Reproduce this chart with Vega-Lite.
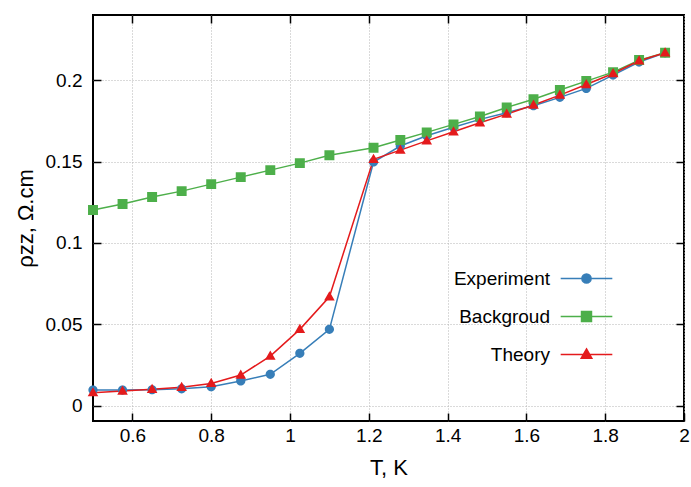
{
  "$schema": "https://vega.github.io/schema/vega-lite/v6.json",
  "width": 591,
  "height": 406,
  "autosize": "none",
  "padding": {"left": 93, "top": 15, "right": 7, "bottom": 66},
  "background": "white",
  "config": {
    "view": {"stroke": "black", "strokeWidth": 2},
    "font": "Liberation Sans",
    "axis": {
      "labelFont": "Liberation Sans",
      "titleFont": "Liberation Sans",
      "labelColor": "#000000",
      "titleColor": "#000000",
      "labelFontSize": 19,
      "titleFontSize": 22,
      "titleFontWeight": "normal",
      "domain": false,
      "tickColor": "#000000",
      "tickWidth": 1.5,
      "gridColor": "#b4b4b4",
      "gridDash": [1, 2],
      "gridWidth": 1,
      "gridOpacity": 1
    }
  },
  "data": {
    "values": [
      {"T": 0.5, "rho": 0.0096, "series": "Experiment"},
      {"T": 0.575, "rho": 0.0096, "series": "Experiment"},
      {"T": 0.65, "rho": 0.0098, "series": "Experiment"},
      {"T": 0.725, "rho": 0.0104, "series": "Experiment"},
      {"T": 0.8, "rho": 0.0117, "series": "Experiment"},
      {"T": 0.875, "rho": 0.0152, "series": "Experiment"},
      {"T": 0.95, "rho": 0.0193, "series": "Experiment"},
      {"T": 1.025, "rho": 0.0322, "series": "Experiment"},
      {"T": 1.1, "rho": 0.0469, "series": "Experiment"},
      {"T": 1.212, "rho": 0.1497, "series": "Experiment"},
      {"T": 1.28, "rho": 0.1595, "series": "Experiment"},
      {"T": 1.347, "rho": 0.1658, "series": "Experiment"},
      {"T": 1.415, "rho": 0.171, "series": "Experiment"},
      {"T": 1.482, "rho": 0.1759, "series": "Experiment"},
      {"T": 1.55, "rho": 0.18, "series": "Experiment"},
      {"T": 1.618, "rho": 0.1843, "series": "Experiment"},
      {"T": 1.685, "rho": 0.1894, "series": "Experiment"},
      {"T": 1.752, "rho": 0.1949, "series": "Experiment"},
      {"T": 1.82, "rho": 0.2031, "series": "Experiment"},
      {"T": 1.886, "rho": 0.2111, "series": "Experiment"},
      {"T": 1.952, "rho": 0.2168, "series": "Experiment"},
      {"T": 0.5, "rho": 0.1202, "series": "Backgroud"},
      {"T": 0.575, "rho": 0.1239, "series": "Backgroud"},
      {"T": 0.65, "rho": 0.1282, "series": "Backgroud"},
      {"T": 0.725, "rho": 0.1318, "series": "Backgroud"},
      {"T": 0.8, "rho": 0.1361, "series": "Backgroud"},
      {"T": 0.875, "rho": 0.1404, "series": "Backgroud"},
      {"T": 0.95, "rho": 0.1447, "series": "Backgroud"},
      {"T": 1.025, "rho": 0.149, "series": "Backgroud"},
      {"T": 1.1, "rho": 0.1539, "series": "Backgroud"},
      {"T": 1.212, "rho": 0.1584, "series": "Backgroud"},
      {"T": 1.28, "rho": 0.1632, "series": "Backgroud"},
      {"T": 1.347, "rho": 0.1679, "series": "Backgroud"},
      {"T": 1.415, "rho": 0.1728, "series": "Backgroud"},
      {"T": 1.482, "rho": 0.1777, "series": "Backgroud"},
      {"T": 1.55, "rho": 0.1832, "series": "Backgroud"},
      {"T": 1.618, "rho": 0.1883, "series": "Backgroud"},
      {"T": 1.685, "rho": 0.1939, "series": "Backgroud"},
      {"T": 1.752, "rho": 0.1994, "series": "Backgroud"},
      {"T": 1.82, "rho": 0.2049, "series": "Backgroud"},
      {"T": 1.886, "rho": 0.2123, "series": "Backgroud"},
      {"T": 1.952, "rho": 0.2168, "series": "Backgroud"},
      {"T": 0.5, "rho": 0.008, "series": "Theory"},
      {"T": 0.575, "rho": 0.009, "series": "Theory"},
      {"T": 0.65, "rho": 0.0101, "series": "Theory"},
      {"T": 0.725, "rho": 0.0113, "series": "Theory"},
      {"T": 0.8, "rho": 0.0137, "series": "Theory"},
      {"T": 0.875, "rho": 0.0188, "series": "Theory"},
      {"T": 0.95, "rho": 0.0305, "series": "Theory"},
      {"T": 1.025, "rho": 0.0469, "series": "Theory"},
      {"T": 1.1, "rho": 0.0669, "series": "Theory"},
      {"T": 1.212, "rho": 0.1513, "series": "Theory"},
      {"T": 1.28, "rho": 0.157, "series": "Theory"},
      {"T": 1.347, "rho": 0.1627, "series": "Theory"},
      {"T": 1.415, "rho": 0.1683, "series": "Theory"},
      {"T": 1.482, "rho": 0.1738, "series": "Theory"},
      {"T": 1.55, "rho": 0.1791, "series": "Theory"},
      {"T": 1.618, "rho": 0.1847, "series": "Theory"},
      {"T": 1.685, "rho": 0.1908, "series": "Theory"},
      {"T": 1.752, "rho": 0.1973, "series": "Theory"},
      {"T": 1.82, "rho": 0.2041, "series": "Theory"},
      {"T": 1.886, "rho": 0.2119, "series": "Theory"},
      {"T": 1.952, "rho": 0.2168, "series": "Theory"}
    ]
  },
  "layer": [
    {
      "mark": {"type": "line", "strokeWidth": 1.5},
      "encoding": {
        "x": {
          "field": "T", "type": "quantitative",
          "scale": {"domain": [0.5, 2], "nice": false, "zero": false},
          "axis": {
            "orient": "bottom",
            "values": [0.6, 0.8, 1, 1.2, 1.4, 1.6, 1.8, 2],
            "format": "~g",
            "tickSize": -8,
            "labelPadding": 13,
            "labelFlush": false,
            "labelOverlap": false,
            "grid": true,
            "title": "T, K",
            "titlePadding": 12
          }
        },
        "y": {
          "field": "rho", "type": "quantitative",
          "scale": {"domain": [-0.0094, 0.24], "nice": false, "zero": false},
          "axis": {
            "orient": "left",
            "values": [0, 0.05, 0.1, 0.15, 0.2],
            "format": "~g",
            "tickSize": -8,
            "labelPadding": 19,
            "labelFlush": false,
            "labelOverlap": false,
            "grid": true,
            "title": "ρzz, Ω.cm",
            "titlePadding": 8
          }
        },
        "color": {
          "field": "series", "type": "nominal",
          "scale": {"domain": ["Experiment", "Backgroud", "Theory"], "range": ["#377eb8", "#4daf4a", "#e41a1c"]},
          "legend": {
            "orient": "none",
            "legendX": 484,
            "legendY": 254,
            "title": null,
            "labelFont": "Liberation Sans",
            "labelFontSize": 19,
            "labelColor": "#000000",
            "labelAlign": "right",
            "labelOffset": -46,
            "symbolSize": 85,
            "symbolStrokeWidth": 1.5,
            "symbolOpacity": 1,
            "rowPadding": 18
          }
        },
        "detail": {"field": "series"}
      }
    },
    {
      "mark": {"type": "point", "filled": true, "opacity": 1},
      "encoding": {
        "x": {
          "field": "T", "type": "quantitative",
          "axis": {"orient": "top", "values": [0.6, 0.8, 1, 1.2, 1.4, 1.6, 1.8], "labels": false, "tickSize": -8, "grid": false, "title": null}
        },
        "y": {
          "field": "rho", "type": "quantitative",
          "axis": {"orient": "right", "values": [0, 0.05, 0.1, 0.15, 0.2], "labels": false, "tickSize": -8, "grid": false, "title": null}
        },
        "color": {"field": "series", "type": "nominal"},
        "shape": {
          "field": "series", "type": "nominal",
          "scale": {
            "domain": ["Experiment", "Backgroud", "Theory"],
            "range": [
              "M-5.6,0L5.6,0M-1,0A1,1 0 1,0 1,0A1,1 0 1,0 -1,0Z",
              "M-5.6,0L5.6,0M-1.08,-1.08L1.08,-1.08L1.08,1.08L-1.08,1.08Z",
              "M-5.6,0L5.6,0M0,-1.2L1.15,0.8L-1.15,0.8Z"
            ]
          }
        },
        "size": {"value": 85}
      }
    }
  ]
}
